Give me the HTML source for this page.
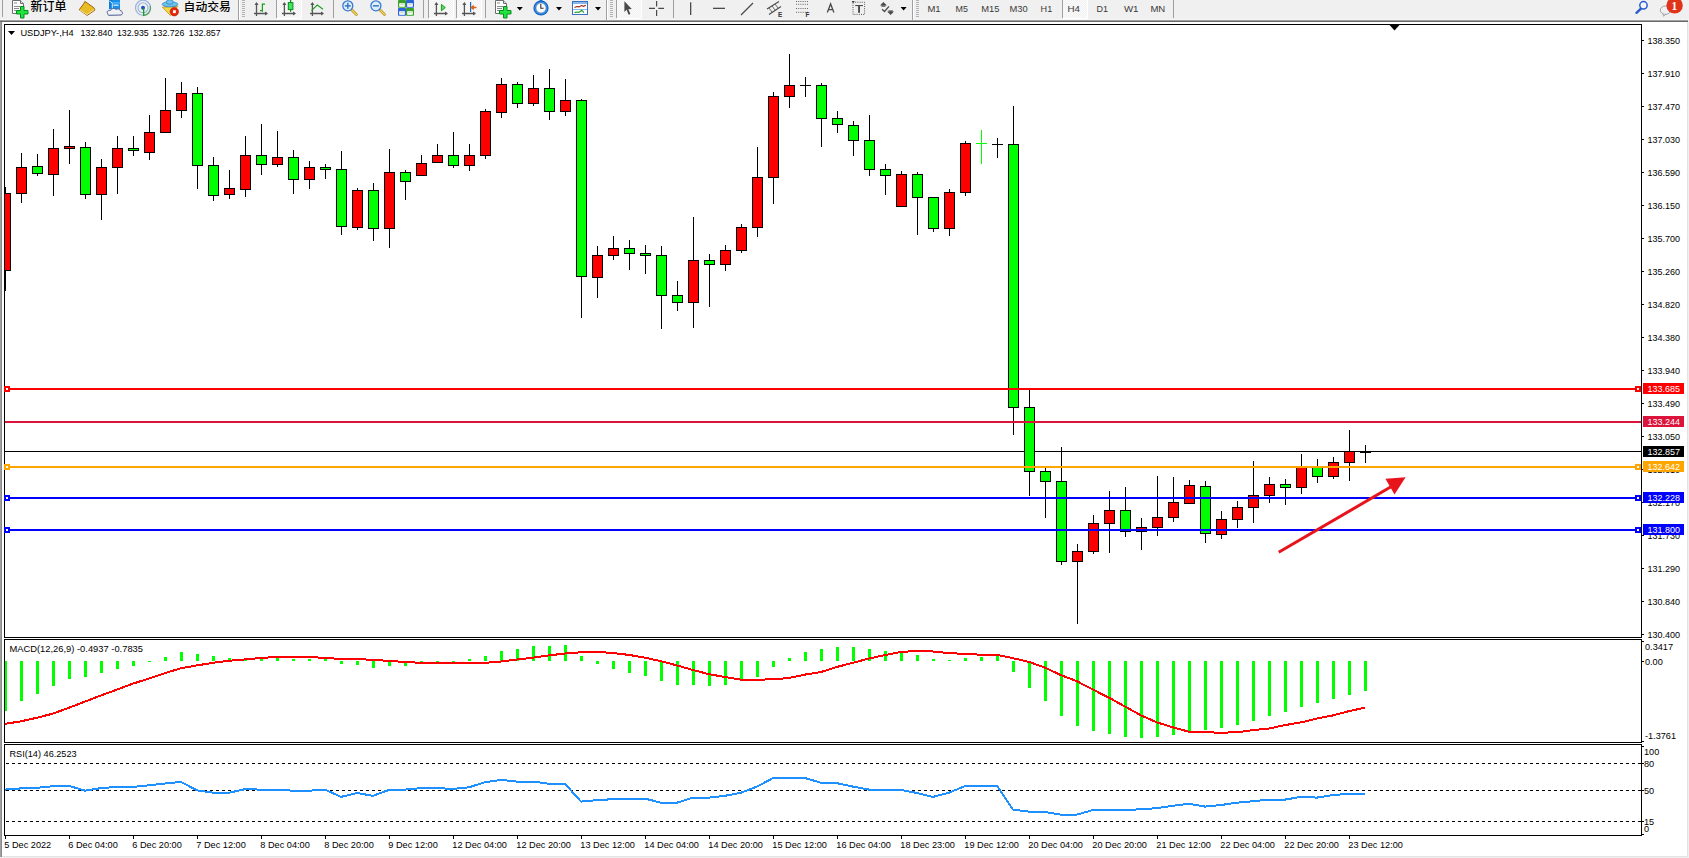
<!DOCTYPE html><html><head><meta charset="utf-8"><title>USDJPY-,H4</title><style>html,body{margin:0;padding:0;background:#fff;overflow:hidden;width:1689px;height:858px}svg{display:block}text{font-family:'Liberation Sans', sans-serif;}</style></head><body>
<svg width="1689" height="858" viewBox="0 0 1689 858">
<rect x="0" y="0" width="1689" height="858" fill="#ffffff"/>
<g shape-rendering="crispEdges">
<rect x="0" y="0" width="1689" height="20" fill="#f0f0f0"/>
<rect x="0" y="19" width="1689" height="1" fill="#f6f6f6"/>
<rect x="0" y="20" width="1688" height="1" fill="#a0a0a0"/>
<rect x="0" y="21" width="1688" height="1" fill="#696969"/>
<rect x="1688" y="20" width="1" height="838" fill="#f0f0f0"/>
<rect x="1687" y="22" width="1" height="835" fill="#e3e3e3"/>
<rect x="0" y="856" width="1688" height="1" fill="#e3e3e3"/>
<rect x="0" y="857" width="1689" height="1" fill="#f0f0f0"/>
<rect x="0" y="22" width="1" height="835" fill="#a0a0a0"/>
<rect x="1" y="22" width="1" height="835" fill="#8a8a8a"/>
</g>
<g shape-rendering="crispEdges" fill="#000">
<rect x="4" y="24" width="1638" height="1"/>
<rect x="4" y="637" width="1638" height="1"/>
<rect x="4" y="24" width="1" height="614"/>
<rect x="1641" y="24" width="1" height="614"/>
<rect x="4" y="639" width="1638" height="1"/>
<rect x="4" y="742" width="1638" height="1"/>
<rect x="4" y="639" width="1" height="104"/>
<rect x="1641" y="639" width="1" height="104"/>
<rect x="4" y="744" width="1638" height="1"/>
<rect x="4" y="835" width="1638" height="1"/>
<rect x="4" y="744" width="1" height="92"/>
<rect x="1641" y="744" width="1" height="92"/>
</g>
<g shape-rendering="crispEdges" fill="#000">
<rect x="1642" y="40" width="2" height="1"/>
<rect x="1642" y="73" width="2" height="1"/>
<rect x="1642" y="106" width="2" height="1"/>
<rect x="1642" y="139" width="2" height="1"/>
<rect x="1642" y="172" width="2" height="1"/>
<rect x="1642" y="205" width="2" height="1"/>
<rect x="1642" y="238" width="2" height="1"/>
<rect x="1642" y="271" width="2" height="1"/>
<rect x="1642" y="304" width="2" height="1"/>
<rect x="1642" y="337" width="2" height="1"/>
<rect x="1642" y="370" width="2" height="1"/>
<rect x="1642" y="403" width="2" height="1"/>
<rect x="1642" y="436" width="2" height="1"/>
<rect x="1642" y="469" width="2" height="1"/>
<rect x="1642" y="502" width="2" height="1"/>
<rect x="1642" y="535" width="2" height="1"/>
<rect x="1642" y="568" width="2" height="1"/>
<rect x="1642" y="601" width="2" height="1"/>
<rect x="1642" y="634" width="2" height="1"/>
</g>
<g font-size="9.8" fill="#000">
<text x="1647.5" y="44" textLength="32.5" lengthAdjust="spacingAndGlyphs">138.350</text>
<text x="1647.5" y="77" textLength="32.5" lengthAdjust="spacingAndGlyphs">137.910</text>
<text x="1647.5" y="110" textLength="32.5" lengthAdjust="spacingAndGlyphs">137.470</text>
<text x="1647.5" y="143" textLength="32.5" lengthAdjust="spacingAndGlyphs">137.030</text>
<text x="1647.5" y="176" textLength="32.5" lengthAdjust="spacingAndGlyphs">136.590</text>
<text x="1647.5" y="209" textLength="32.5" lengthAdjust="spacingAndGlyphs">136.150</text>
<text x="1647.5" y="242" textLength="32.5" lengthAdjust="spacingAndGlyphs">135.700</text>
<text x="1647.5" y="275" textLength="32.5" lengthAdjust="spacingAndGlyphs">135.260</text>
<text x="1647.5" y="308" textLength="32.5" lengthAdjust="spacingAndGlyphs">134.820</text>
<text x="1647.5" y="341" textLength="32.5" lengthAdjust="spacingAndGlyphs">134.380</text>
<text x="1647.5" y="374" textLength="32.5" lengthAdjust="spacingAndGlyphs">133.940</text>
<text x="1647.5" y="407" textLength="32.5" lengthAdjust="spacingAndGlyphs">133.490</text>
<text x="1647.5" y="440" textLength="32.5" lengthAdjust="spacingAndGlyphs">133.050</text>
<text x="1647.5" y="473" textLength="32.5" lengthAdjust="spacingAndGlyphs">132.610</text>
<text x="1647.5" y="506" textLength="32.5" lengthAdjust="spacingAndGlyphs">132.170</text>
<text x="1647.5" y="539" textLength="32.5" lengthAdjust="spacingAndGlyphs">131.730</text>
<text x="1647.5" y="572" textLength="32.5" lengthAdjust="spacingAndGlyphs">131.290</text>
<text x="1647.5" y="605" textLength="32.5" lengthAdjust="spacingAndGlyphs">130.840</text>
<text x="1647.5" y="638" textLength="32.5" lengthAdjust="spacingAndGlyphs">130.400</text>
</g>
<rect x="5" y="451" width="1636" height="1" fill="#000" shape-rendering="crispEdges"/>
<defs><clipPath id="cc"><rect x="5" y="25" width="1636" height="612"/></clipPath><clipPath id="mc"><rect x="5" y="640" width="1636" height="102"/></clipPath><clipPath id="rc"><rect x="5" y="745" width="1636" height="90"/></clipPath></defs>
<g shape-rendering="crispEdges" clip-path="url(#cc)">
<rect x="5" y="187" width="1" height="104" fill="#000"/>
<rect x="0" y="193" width="11" height="78" fill="#000"/>
<rect x="1" y="194" width="9" height="76" fill="#ff0000"/>
<rect x="21" y="153" width="1" height="50" fill="#000"/>
<rect x="16" y="167" width="11" height="27" fill="#000"/>
<rect x="17" y="168" width="9" height="25" fill="#ff0000"/>
<rect x="37" y="154" width="1" height="22" fill="#000"/>
<rect x="32" y="166" width="11" height="8" fill="#000"/>
<rect x="33" y="167" width="9" height="6" fill="#00ff00"/>
<rect x="53" y="129" width="1" height="67" fill="#000"/>
<rect x="48" y="148" width="11" height="27" fill="#000"/>
<rect x="49" y="149" width="9" height="25" fill="#ff0000"/>
<rect x="69" y="110" width="1" height="54" fill="#000"/>
<rect x="64" y="146" width="11" height="3" fill="#000"/>
<rect x="65" y="147" width="9" height="1" fill="#ff0000"/>
<rect x="85" y="142" width="1" height="57" fill="#000"/>
<rect x="80" y="147" width="11" height="48" fill="#000"/>
<rect x="81" y="148" width="9" height="46" fill="#00ff00"/>
<rect x="101" y="159" width="1" height="61" fill="#000"/>
<rect x="96" y="167" width="11" height="28" fill="#000"/>
<rect x="97" y="168" width="9" height="26" fill="#ff0000"/>
<rect x="117" y="136" width="1" height="58" fill="#000"/>
<rect x="112" y="148" width="11" height="20" fill="#000"/>
<rect x="113" y="149" width="9" height="18" fill="#ff0000"/>
<rect x="133" y="136" width="1" height="20" fill="#000"/>
<rect x="128" y="148" width="11" height="3" fill="#000"/>
<rect x="129" y="149" width="9" height="1" fill="#00ff00"/>
<rect x="149" y="115" width="1" height="45" fill="#000"/>
<rect x="144" y="132" width="11" height="21" fill="#000"/>
<rect x="145" y="133" width="9" height="19" fill="#ff0000"/>
<rect x="165" y="78" width="1" height="55" fill="#000"/>
<rect x="160" y="110" width="11" height="23" fill="#000"/>
<rect x="161" y="111" width="9" height="21" fill="#ff0000"/>
<rect x="181" y="82" width="1" height="36" fill="#000"/>
<rect x="176" y="93" width="11" height="18" fill="#000"/>
<rect x="177" y="94" width="9" height="16" fill="#ff0000"/>
<rect x="197" y="87" width="1" height="102" fill="#000"/>
<rect x="192" y="93" width="11" height="73" fill="#000"/>
<rect x="193" y="94" width="9" height="71" fill="#00ff00"/>
<rect x="213" y="157" width="1" height="44" fill="#000"/>
<rect x="208" y="165" width="11" height="31" fill="#000"/>
<rect x="209" y="166" width="9" height="29" fill="#00ff00"/>
<rect x="229" y="170" width="1" height="29" fill="#000"/>
<rect x="224" y="188" width="11" height="7" fill="#000"/>
<rect x="225" y="189" width="9" height="5" fill="#ff0000"/>
<rect x="245" y="136" width="1" height="61" fill="#000"/>
<rect x="240" y="155" width="11" height="35" fill="#000"/>
<rect x="241" y="156" width="9" height="33" fill="#ff0000"/>
<rect x="261" y="124" width="1" height="51" fill="#000"/>
<rect x="256" y="155" width="11" height="10" fill="#000"/>
<rect x="257" y="156" width="9" height="8" fill="#00ff00"/>
<rect x="277" y="131" width="1" height="36" fill="#000"/>
<rect x="272" y="157" width="11" height="8" fill="#000"/>
<rect x="273" y="158" width="9" height="6" fill="#ff0000"/>
<rect x="293" y="150" width="1" height="44" fill="#000"/>
<rect x="288" y="157" width="11" height="23" fill="#000"/>
<rect x="289" y="158" width="9" height="21" fill="#00ff00"/>
<rect x="309" y="161" width="1" height="28" fill="#000"/>
<rect x="304" y="167" width="11" height="13" fill="#000"/>
<rect x="305" y="168" width="9" height="11" fill="#ff0000"/>
<rect x="325" y="164" width="1" height="15" fill="#000"/>
<rect x="320" y="167" width="11" height="3" fill="#000"/>
<rect x="321" y="168" width="9" height="1" fill="#00ff00"/>
<rect x="341" y="151" width="1" height="84" fill="#000"/>
<rect x="336" y="169" width="11" height="58" fill="#000"/>
<rect x="337" y="170" width="9" height="56" fill="#00ff00"/>
<rect x="357" y="188" width="1" height="42" fill="#000"/>
<rect x="352" y="190" width="11" height="38" fill="#000"/>
<rect x="353" y="191" width="9" height="36" fill="#ff0000"/>
<rect x="373" y="183" width="1" height="58" fill="#000"/>
<rect x="368" y="190" width="11" height="39" fill="#000"/>
<rect x="369" y="191" width="9" height="37" fill="#00ff00"/>
<rect x="389" y="149" width="1" height="99" fill="#000"/>
<rect x="384" y="172" width="11" height="57" fill="#000"/>
<rect x="385" y="173" width="9" height="55" fill="#ff0000"/>
<rect x="405" y="170" width="1" height="30" fill="#000"/>
<rect x="400" y="172" width="11" height="10" fill="#000"/>
<rect x="401" y="173" width="9" height="8" fill="#00ff00"/>
<rect x="421" y="155" width="1" height="21" fill="#000"/>
<rect x="416" y="163" width="11" height="13" fill="#000"/>
<rect x="417" y="164" width="9" height="11" fill="#ff0000"/>
<rect x="437" y="144" width="1" height="19" fill="#000"/>
<rect x="432" y="155" width="11" height="8" fill="#000"/>
<rect x="433" y="156" width="9" height="6" fill="#ff0000"/>
<rect x="453" y="132" width="1" height="36" fill="#000"/>
<rect x="448" y="155" width="11" height="11" fill="#000"/>
<rect x="449" y="156" width="9" height="9" fill="#00ff00"/>
<rect x="469" y="144" width="1" height="27" fill="#000"/>
<rect x="464" y="155" width="11" height="11" fill="#000"/>
<rect x="465" y="156" width="9" height="9" fill="#ff0000"/>
<rect x="485" y="109" width="1" height="50" fill="#000"/>
<rect x="480" y="111" width="11" height="45" fill="#000"/>
<rect x="481" y="112" width="9" height="43" fill="#ff0000"/>
<rect x="501" y="78" width="1" height="40" fill="#000"/>
<rect x="496" y="84" width="11" height="29" fill="#000"/>
<rect x="497" y="85" width="9" height="27" fill="#ff0000"/>
<rect x="517" y="82" width="1" height="26" fill="#000"/>
<rect x="512" y="84" width="11" height="20" fill="#000"/>
<rect x="513" y="85" width="9" height="18" fill="#00ff00"/>
<rect x="533" y="75" width="1" height="31" fill="#000"/>
<rect x="528" y="88" width="11" height="16" fill="#000"/>
<rect x="529" y="89" width="9" height="14" fill="#ff0000"/>
<rect x="549" y="69" width="1" height="51" fill="#000"/>
<rect x="544" y="88" width="11" height="24" fill="#000"/>
<rect x="545" y="89" width="9" height="22" fill="#00ff00"/>
<rect x="565" y="79" width="1" height="37" fill="#000"/>
<rect x="560" y="100" width="11" height="12" fill="#000"/>
<rect x="561" y="101" width="9" height="10" fill="#ff0000"/>
<rect x="581" y="99" width="1" height="219" fill="#000"/>
<rect x="576" y="100" width="11" height="177" fill="#000"/>
<rect x="577" y="101" width="9" height="175" fill="#00ff00"/>
<rect x="597" y="246" width="1" height="52" fill="#000"/>
<rect x="592" y="255" width="11" height="23" fill="#000"/>
<rect x="593" y="256" width="9" height="21" fill="#ff0000"/>
<rect x="613" y="236" width="1" height="24" fill="#000"/>
<rect x="608" y="248" width="11" height="8" fill="#000"/>
<rect x="609" y="249" width="9" height="6" fill="#ff0000"/>
<rect x="629" y="240" width="1" height="30" fill="#000"/>
<rect x="624" y="248" width="11" height="6" fill="#000"/>
<rect x="625" y="249" width="9" height="4" fill="#00ff00"/>
<rect x="645" y="245" width="1" height="29" fill="#000"/>
<rect x="640" y="253" width="11" height="3" fill="#000"/>
<rect x="641" y="254" width="9" height="1" fill="#00ff00"/>
<rect x="661" y="246" width="1" height="83" fill="#000"/>
<rect x="656" y="255" width="11" height="41" fill="#000"/>
<rect x="657" y="256" width="9" height="39" fill="#00ff00"/>
<rect x="677" y="281" width="1" height="30" fill="#000"/>
<rect x="672" y="295" width="11" height="8" fill="#000"/>
<rect x="673" y="296" width="9" height="6" fill="#00ff00"/>
<rect x="693" y="217" width="1" height="111" fill="#000"/>
<rect x="688" y="260" width="11" height="43" fill="#000"/>
<rect x="689" y="261" width="9" height="41" fill="#ff0000"/>
<rect x="709" y="254" width="1" height="53" fill="#000"/>
<rect x="704" y="260" width="11" height="5" fill="#000"/>
<rect x="705" y="261" width="9" height="3" fill="#00ff00"/>
<rect x="725" y="245" width="1" height="26" fill="#000"/>
<rect x="720" y="250" width="11" height="15" fill="#000"/>
<rect x="721" y="251" width="9" height="13" fill="#ff0000"/>
<rect x="741" y="224" width="1" height="29" fill="#000"/>
<rect x="736" y="227" width="11" height="24" fill="#000"/>
<rect x="737" y="228" width="9" height="22" fill="#ff0000"/>
<rect x="757" y="147" width="1" height="90" fill="#000"/>
<rect x="752" y="177" width="11" height="51" fill="#000"/>
<rect x="753" y="178" width="9" height="49" fill="#ff0000"/>
<rect x="773" y="92" width="1" height="112" fill="#000"/>
<rect x="768" y="96" width="11" height="82" fill="#000"/>
<rect x="769" y="97" width="9" height="80" fill="#ff0000"/>
<rect x="789" y="54" width="1" height="54" fill="#000"/>
<rect x="784" y="85" width="11" height="12" fill="#000"/>
<rect x="785" y="86" width="9" height="10" fill="#ff0000"/>
<rect x="805" y="77" width="1" height="20" fill="#000"/>
<rect x="800" y="85" width="11" height="1" fill="#000"/>
<rect x="821" y="83" width="1" height="64" fill="#000"/>
<rect x="816" y="85" width="11" height="34" fill="#000"/>
<rect x="817" y="86" width="9" height="32" fill="#00ff00"/>
<rect x="837" y="111" width="1" height="22" fill="#000"/>
<rect x="832" y="118" width="11" height="7" fill="#000"/>
<rect x="833" y="119" width="9" height="5" fill="#00ff00"/>
<rect x="853" y="121" width="1" height="35" fill="#000"/>
<rect x="848" y="125" width="11" height="16" fill="#000"/>
<rect x="849" y="126" width="9" height="14" fill="#00ff00"/>
<rect x="869" y="115" width="1" height="61" fill="#000"/>
<rect x="864" y="140" width="11" height="30" fill="#000"/>
<rect x="865" y="141" width="9" height="28" fill="#00ff00"/>
<rect x="885" y="164" width="1" height="31" fill="#000"/>
<rect x="880" y="169" width="11" height="7" fill="#000"/>
<rect x="881" y="170" width="9" height="5" fill="#00ff00"/>
<rect x="901" y="171" width="1" height="36" fill="#000"/>
<rect x="896" y="174" width="11" height="33" fill="#000"/>
<rect x="897" y="175" width="9" height="31" fill="#ff0000"/>
<rect x="917" y="172" width="1" height="63" fill="#000"/>
<rect x="912" y="174" width="11" height="24" fill="#000"/>
<rect x="913" y="175" width="9" height="22" fill="#00ff00"/>
<rect x="933" y="197" width="1" height="35" fill="#000"/>
<rect x="928" y="197" width="11" height="32" fill="#000"/>
<rect x="929" y="198" width="9" height="30" fill="#00ff00"/>
<rect x="949" y="189" width="1" height="47" fill="#000"/>
<rect x="944" y="192" width="11" height="37" fill="#000"/>
<rect x="945" y="193" width="9" height="35" fill="#ff0000"/>
<rect x="965" y="141" width="1" height="55" fill="#000"/>
<rect x="960" y="143" width="11" height="50" fill="#000"/>
<rect x="961" y="144" width="9" height="48" fill="#ff0000"/>
<rect x="981" y="130" width="1" height="34" fill="#00ff00"/>
<rect x="976" y="143" width="11" height="1" fill="#00ff00"/>
<rect x="997" y="138" width="1" height="20" fill="#000"/>
<rect x="992" y="144" width="11" height="1" fill="#000"/>
<rect x="1013" y="106" width="1" height="329" fill="#000"/>
<rect x="1008" y="144" width="11" height="264" fill="#000"/>
<rect x="1009" y="145" width="9" height="262" fill="#00ff00"/>
<rect x="1029" y="390" width="1" height="106" fill="#000"/>
<rect x="1024" y="407" width="11" height="65" fill="#000"/>
<rect x="1025" y="408" width="9" height="63" fill="#00ff00"/>
<rect x="1045" y="468" width="1" height="50" fill="#000"/>
<rect x="1040" y="471" width="11" height="11" fill="#000"/>
<rect x="1041" y="472" width="9" height="9" fill="#00ff00"/>
<rect x="1061" y="447" width="1" height="118" fill="#000"/>
<rect x="1056" y="481" width="11" height="81" fill="#000"/>
<rect x="1057" y="482" width="9" height="79" fill="#00ff00"/>
<rect x="1077" y="544" width="1" height="80" fill="#000"/>
<rect x="1072" y="551" width="11" height="11" fill="#000"/>
<rect x="1073" y="552" width="9" height="9" fill="#ff0000"/>
<rect x="1093" y="515" width="1" height="39" fill="#000"/>
<rect x="1088" y="523" width="11" height="29" fill="#000"/>
<rect x="1089" y="524" width="9" height="27" fill="#ff0000"/>
<rect x="1109" y="491" width="1" height="62" fill="#000"/>
<rect x="1104" y="510" width="11" height="14" fill="#000"/>
<rect x="1105" y="511" width="9" height="12" fill="#ff0000"/>
<rect x="1125" y="487" width="1" height="50" fill="#000"/>
<rect x="1120" y="510" width="11" height="22" fill="#000"/>
<rect x="1121" y="511" width="9" height="20" fill="#00ff00"/>
<rect x="1141" y="518" width="1" height="32" fill="#000"/>
<rect x="1136" y="527" width="11" height="5" fill="#000"/>
<rect x="1137" y="528" width="9" height="3" fill="#ff0000"/>
<rect x="1157" y="476" width="1" height="60" fill="#000"/>
<rect x="1152" y="517" width="11" height="11" fill="#000"/>
<rect x="1153" y="518" width="9" height="9" fill="#ff0000"/>
<rect x="1173" y="477" width="1" height="45" fill="#000"/>
<rect x="1168" y="502" width="11" height="16" fill="#000"/>
<rect x="1169" y="503" width="9" height="14" fill="#ff0000"/>
<rect x="1189" y="480" width="1" height="24" fill="#000"/>
<rect x="1184" y="485" width="11" height="19" fill="#000"/>
<rect x="1185" y="486" width="9" height="17" fill="#ff0000"/>
<rect x="1205" y="481" width="1" height="62" fill="#000"/>
<rect x="1200" y="486" width="11" height="48" fill="#000"/>
<rect x="1201" y="487" width="9" height="46" fill="#00ff00"/>
<rect x="1221" y="511" width="1" height="28" fill="#000"/>
<rect x="1216" y="519" width="11" height="16" fill="#000"/>
<rect x="1217" y="520" width="9" height="14" fill="#ff0000"/>
<rect x="1237" y="501" width="1" height="27" fill="#000"/>
<rect x="1232" y="507" width="11" height="13" fill="#000"/>
<rect x="1233" y="508" width="9" height="11" fill="#ff0000"/>
<rect x="1253" y="461" width="1" height="62" fill="#000"/>
<rect x="1248" y="495" width="11" height="13" fill="#000"/>
<rect x="1249" y="496" width="9" height="11" fill="#ff0000"/>
<rect x="1269" y="477" width="1" height="26" fill="#000"/>
<rect x="1264" y="484" width="11" height="12" fill="#000"/>
<rect x="1265" y="485" width="9" height="10" fill="#ff0000"/>
<rect x="1285" y="479" width="1" height="26" fill="#000"/>
<rect x="1280" y="484" width="11" height="4" fill="#000"/>
<rect x="1281" y="485" width="9" height="2" fill="#00ff00"/>
<rect x="1301" y="454" width="1" height="40" fill="#000"/>
<rect x="1296" y="467" width="11" height="21" fill="#000"/>
<rect x="1297" y="468" width="9" height="19" fill="#ff0000"/>
<rect x="1317" y="459" width="1" height="24" fill="#000"/>
<rect x="1312" y="467" width="11" height="10" fill="#000"/>
<rect x="1313" y="468" width="9" height="8" fill="#00ff00"/>
<rect x="1333" y="457" width="1" height="22" fill="#000"/>
<rect x="1328" y="462" width="11" height="15" fill="#000"/>
<rect x="1329" y="463" width="9" height="13" fill="#ff0000"/>
<rect x="1349" y="430" width="1" height="51" fill="#000"/>
<rect x="1344" y="451" width="11" height="12" fill="#000"/>
<rect x="1345" y="452" width="9" height="10" fill="#ff0000"/>
<rect x="1365" y="445" width="1" height="18" fill="#000"/>
<rect x="1360" y="452" width="11" height="1" fill="#000"/>
</g>
<rect x="5" y="388" width="1636" height="2" fill="#ff0000" shape-rendering="crispEdges"/>
<rect x="4" y="386" width="6" height="6" fill="#ff0000" shape-rendering="crispEdges"/>
<rect x="6" y="388" width="2" height="2" fill="#fff" shape-rendering="crispEdges"/>
<rect x="1635" y="386" width="6" height="6" fill="#ff0000" shape-rendering="crispEdges"/>
<rect x="1637" y="388" width="2" height="2" fill="#fff" shape-rendering="crispEdges"/>
<rect x="5" y="421" width="1636" height="2" fill="#dc143c" shape-rendering="crispEdges"/>
<rect x="5" y="466" width="1636" height="2" fill="#ffa500" shape-rendering="crispEdges"/>
<rect x="4" y="464" width="6" height="6" fill="#ffa500" shape-rendering="crispEdges"/>
<rect x="6" y="466" width="2" height="2" fill="#fff" shape-rendering="crispEdges"/>
<rect x="1635" y="464" width="6" height="6" fill="#ffa500" shape-rendering="crispEdges"/>
<rect x="1637" y="466" width="2" height="2" fill="#fff" shape-rendering="crispEdges"/>
<rect x="5" y="497" width="1636" height="2" fill="#0000ff" shape-rendering="crispEdges"/>
<rect x="4" y="495" width="6" height="6" fill="#0000ff" shape-rendering="crispEdges"/>
<rect x="6" y="497" width="2" height="2" fill="#fff" shape-rendering="crispEdges"/>
<rect x="1635" y="495" width="6" height="6" fill="#0000ff" shape-rendering="crispEdges"/>
<rect x="1637" y="497" width="2" height="2" fill="#fff" shape-rendering="crispEdges"/>
<rect x="5" y="529" width="1636" height="2" fill="#0000ff" shape-rendering="crispEdges"/>
<rect x="4" y="527" width="6" height="6" fill="#0000ff" shape-rendering="crispEdges"/>
<rect x="6" y="529" width="2" height="2" fill="#fff" shape-rendering="crispEdges"/>
<rect x="1635" y="527" width="6" height="6" fill="#0000ff" shape-rendering="crispEdges"/>
<rect x="1637" y="529" width="2" height="2" fill="#fff" shape-rendering="crispEdges"/>
<line x1="1278.7" y1="552.3" x2="1391" y2="486.8" stroke="#e8141c" stroke-width="3"/>
<polygon points="1385.4,478.7 1405.6,477.2 1394.5,494.5" fill="#e8141c"/>
<polygon points="1389.5,25 1399.5,25 1394.5,30.5" fill="#000"/>
<rect x="1643" y="383" width="41" height="11" fill="#ff0000" shape-rendering="crispEdges"/>
<text x="1647.5" y="392" font-size="9.8" fill="#fff" textLength="32.5" lengthAdjust="spacingAndGlyphs">133.685</text>
<rect x="1643" y="416" width="41" height="11" fill="#dc143c" shape-rendering="crispEdges"/>
<text x="1647.5" y="425" font-size="9.8" fill="#fff" textLength="32.5" lengthAdjust="spacingAndGlyphs">133.244</text>
<rect x="1643" y="446" width="41" height="11" fill="#000000" shape-rendering="crispEdges"/>
<text x="1647.5" y="455" font-size="9.8" fill="#fff" textLength="32.5" lengthAdjust="spacingAndGlyphs">132.857</text>
<rect x="1643" y="461" width="41" height="11" fill="#ffa500" shape-rendering="crispEdges"/>
<text x="1647.5" y="470" font-size="9.8" fill="#fff" textLength="32.5" lengthAdjust="spacingAndGlyphs">132.642</text>
<rect x="1643" y="492" width="41" height="11" fill="#0000ff" shape-rendering="crispEdges"/>
<text x="1647.5" y="501" font-size="9.8" fill="#fff" textLength="32.5" lengthAdjust="spacingAndGlyphs">132.228</text>
<rect x="1643" y="524" width="41" height="11" fill="#0000ff" shape-rendering="crispEdges"/>
<text x="1647.5" y="533" font-size="9.8" fill="#fff" textLength="32.5" lengthAdjust="spacingAndGlyphs">131.800</text>
<polygon points="8,31 15,31 11.5,35" fill="#000"/>
<text x="20.4" y="36" font-size="9.8" fill="#000" textLength="53.2" lengthAdjust="spacingAndGlyphs">USDJPY-,H4</text>
<text x="80.6" y="36" font-size="9.8" fill="#000" textLength="31.8" lengthAdjust="spacingAndGlyphs">132.840</text>
<text x="116.9" y="36" font-size="9.8" fill="#000" textLength="31.8" lengthAdjust="spacingAndGlyphs">132.935</text>
<text x="152.6" y="36" font-size="9.8" fill="#000" textLength="31.8" lengthAdjust="spacingAndGlyphs">132.726</text>
<text x="188.8" y="36" font-size="9.8" fill="#000" textLength="31.8" lengthAdjust="spacingAndGlyphs">132.857</text>
<g clip-path="url(#mc)"><g shape-rendering="crispEdges" fill="#00ff00">
<rect x="4" y="661" width="3" height="50"/>
<rect x="20" y="661" width="3" height="40"/>
<rect x="36" y="661" width="3" height="33"/>
<rect x="52" y="661" width="3" height="25"/>
<rect x="68" y="661" width="3" height="18"/>
<rect x="84" y="661" width="3" height="16"/>
<rect x="100" y="661" width="3" height="12"/>
<rect x="116" y="661" width="3" height="8"/>
<rect x="132" y="661" width="3" height="5"/>
<rect x="148" y="661" width="3" height="1"/>
<rect x="164" y="657" width="3" height="4"/>
<rect x="180" y="652" width="3" height="9"/>
<rect x="196" y="654" width="3" height="7"/>
<rect x="212" y="656" width="3" height="5"/>
<rect x="228" y="658" width="3" height="3"/>
<rect x="244" y="658" width="3" height="3"/>
<rect x="260" y="659" width="3" height="2"/>
<rect x="276" y="658" width="3" height="3"/>
<rect x="292" y="659" width="3" height="2"/>
<rect x="308" y="659" width="3" height="2"/>
<rect x="324" y="659" width="3" height="2"/>
<rect x="340" y="661" width="3" height="3"/>
<rect x="356" y="661" width="3" height="4"/>
<rect x="372" y="661" width="3" height="7"/>
<rect x="388" y="661" width="3" height="5"/>
<rect x="404" y="661" width="3" height="5"/>
<rect x="420" y="661" width="3" height="1"/>
<rect x="436" y="661" width="3" height="1"/>
<rect x="452" y="661" width="3" height="1"/>
<rect x="468" y="659" width="3" height="2"/>
<rect x="484" y="656" width="3" height="5"/>
<rect x="500" y="651" width="3" height="10"/>
<rect x="516" y="649" width="3" height="12"/>
<rect x="532" y="646" width="3" height="15"/>
<rect x="548" y="646" width="3" height="15"/>
<rect x="564" y="645" width="3" height="16"/>
<rect x="580" y="656" width="3" height="5"/>
<rect x="596" y="661" width="3" height="3"/>
<rect x="612" y="661" width="3" height="8"/>
<rect x="628" y="661" width="3" height="12"/>
<rect x="644" y="661" width="3" height="15"/>
<rect x="660" y="661" width="3" height="20"/>
<rect x="676" y="661" width="3" height="24"/>
<rect x="692" y="661" width="3" height="24"/>
<rect x="708" y="661" width="3" height="25"/>
<rect x="724" y="661" width="3" height="24"/>
<rect x="740" y="661" width="3" height="20"/>
<rect x="756" y="661" width="3" height="16"/>
<rect x="772" y="661" width="3" height="6"/>
<rect x="788" y="658" width="3" height="3"/>
<rect x="804" y="652" width="3" height="9"/>
<rect x="820" y="649" width="3" height="12"/>
<rect x="836" y="647" width="3" height="14"/>
<rect x="852" y="647" width="3" height="14"/>
<rect x="868" y="649" width="3" height="12"/>
<rect x="884" y="651" width="3" height="10"/>
<rect x="900" y="653" width="3" height="8"/>
<rect x="916" y="655" width="3" height="6"/>
<rect x="932" y="659" width="3" height="2"/>
<rect x="948" y="660" width="3" height="1"/>
<rect x="964" y="658" width="3" height="3"/>
<rect x="980" y="657" width="3" height="4"/>
<rect x="996" y="656" width="3" height="5"/>
<rect x="1012" y="661" width="3" height="11"/>
<rect x="1028" y="661" width="3" height="27"/>
<rect x="1044" y="661" width="3" height="40"/>
<rect x="1060" y="661" width="3" height="55"/>
<rect x="1076" y="661" width="3" height="65"/>
<rect x="1092" y="661" width="3" height="70"/>
<rect x="1108" y="661" width="3" height="73"/>
<rect x="1124" y="661" width="3" height="76"/>
<rect x="1140" y="661" width="3" height="77"/>
<rect x="1156" y="661" width="3" height="76"/>
<rect x="1172" y="661" width="3" height="74"/>
<rect x="1188" y="661" width="3" height="70"/>
<rect x="1204" y="661" width="3" height="69"/>
<rect x="1220" y="661" width="3" height="67"/>
<rect x="1236" y="661" width="3" height="64"/>
<rect x="1252" y="661" width="3" height="60"/>
<rect x="1268" y="661" width="3" height="55"/>
<rect x="1284" y="661" width="3" height="51"/>
<rect x="1300" y="661" width="3" height="46"/>
<rect x="1316" y="661" width="3" height="42"/>
<rect x="1332" y="661" width="3" height="38"/>
<rect x="1348" y="661" width="3" height="34"/>
<rect x="1364" y="661" width="3" height="30"/>
</g>
<polyline points="5,723.9 21,721.3 37,717.7 53,713.6 69,707.7 85,701.6 101,695.4 117,689.6 133,683.6 149,678.5 165,673.1 181,668.2 197,665.4 213,662.8 229,660.8 245,659.4 261,658 277,656.9 293,656.9 309,656.9 325,658 341,658.9 357,658.9 373,660 389,660.8 405,662 421,662.8 437,662.8 453,662.8 469,662.8 485,662.8 501,661.5 517,659.5 533,657.7 549,655.4 565,653.5 581,652.3 597,651.7 613,653.1 629,654.9 645,657.7 661,661.2 677,665.4 693,670 709,674.2 725,677 741,679.6 757,679.7 773,679.3 789,678 805,674.6 821,672 837,666.9 853,662.8 869,658.5 885,655.1 901,652 917,650.8 933,651.5 949,653.1 965,653.9 981,654.7 997,654.9 1013,658.2 1029,661.9 1045,667.7 1061,675.1 1077,681.3 1093,689.6 1109,697.7 1125,706.5 1141,715.4 1157,722.4 1173,727.4 1189,731.7 1205,732.4 1221,732.6 1237,732.4 1253,730.1 1269,728.5 1285,725.1 1301,722.4 1317,718.5 1333,715.4 1349,711.1 1365,707.7" fill="none" stroke="#ff0000" stroke-width="2" stroke-linejoin="round" shape-rendering="crispEdges"/></g>
<text x="9.5" y="652" font-size="9.8" fill="#000" textLength="133.5" lengthAdjust="spacingAndGlyphs">MACD(12,26,9) -0.4937 -0.7835</text>
<g shape-rendering="crispEdges" fill="#000"><rect x="1642" y="641" width="2" height="1"/><rect x="1642" y="661" width="2" height="1"/><rect x="1642" y="741" width="2" height="1"/></g>
<text x="1645" y="650" font-size="9.8" fill="#000" textLength="28.0" lengthAdjust="spacingAndGlyphs">0.3417</text>
<text x="1645" y="665" font-size="9.8" fill="#000" textLength="17.8" lengthAdjust="spacingAndGlyphs">0.00</text>
<text x="1645" y="739" font-size="9.8" fill="#000" textLength="31.0" lengthAdjust="spacingAndGlyphs">-1.3761</text>
<line x1="6" y1="763.5" x2="1641" y2="763.5" stroke="#000" stroke-width="1" stroke-dasharray="3 3" shape-rendering="crispEdges"/>
<line x1="6" y1="790.5" x2="1641" y2="790.5" stroke="#000" stroke-width="1" stroke-dasharray="3 3" shape-rendering="crispEdges"/>
<line x1="6" y1="821.5" x2="1641" y2="821.5" stroke="#000" stroke-width="1" stroke-dasharray="3 3" shape-rendering="crispEdges"/>
<g clip-path="url(#rc)"><polyline points="5,789.6 21,788.4 37,787.8 53,786.2 69,785.8 85,790.7 101,788.1 117,786.9 133,786.9 149,785.3 165,783.5 181,781.9 197,790.4 213,792.7 229,792.7 245,789.2 261,789.6 277,789.6 293,790.7 309,790.7 325,789.6 341,796.9 357,793 373,795.8 389,789.9 405,789.6 421,788.1 437,788.1 453,788.9 469,787.3 485,782.2 501,779.9 517,781.6 533,781.6 549,783.8 565,783.8 581,801.6 597,800.1 613,799.2 629,798.6 645,798.6 661,802.7 677,802.7 693,797.6 709,797.6 725,795.8 741,792.7 757,786.6 773,778.1 789,778.1 805,778.1 821,782.7 837,783.2 853,786.6 869,789.6 885,789.9 901,789.9 917,793 933,796.9 949,792.7 965,786.1 981,785.8 997,785.8 1013,809.6 1029,811.6 1045,812 1061,814.6 1077,814.6 1093,810 1109,810 1125,810 1141,809.3 1157,808.1 1173,805.8 1189,803.8 1205,806.6 1221,805 1237,802.7 1253,801.2 1269,799.6 1285,799.6 1301,796.9 1317,797.6 1333,795 1349,793.9 1365,793.8" fill="none" stroke="#1e90ff" stroke-width="2" stroke-linejoin="round" shape-rendering="crispEdges"/></g>
<text x="9.5" y="757" font-size="9.8" fill="#000" textLength="67.1" lengthAdjust="spacingAndGlyphs">RSI(14) 46.2523</text>
<g shape-rendering="crispEdges" fill="#000"><rect x="1642" y="746" width="2" height="1"/><rect x="1642" y="763" width="2" height="1"/><rect x="1642" y="790" width="2" height="1"/><rect x="1642" y="821" width="2" height="1"/><rect x="1642" y="834" width="2" height="1"/></g>
<text x="1644" y="755" font-size="9.8" fill="#000" textLength="15.3" lengthAdjust="spacingAndGlyphs">100</text>
<text x="1644" y="767" font-size="9.8" fill="#000" textLength="10.2" lengthAdjust="spacingAndGlyphs">80</text>
<text x="1644" y="794" font-size="9.8" fill="#000" textLength="10.2" lengthAdjust="spacingAndGlyphs">50</text>
<text x="1644" y="825" font-size="9.8" fill="#000" textLength="10.2" lengthAdjust="spacingAndGlyphs">15</text>
<text x="1644" y="832" font-size="9.8" fill="#000" textLength="5.1" lengthAdjust="spacingAndGlyphs">0</text>
<g shape-rendering="crispEdges" fill="#000">
<rect x="5" y="836" width="1" height="3"/>
<rect x="69" y="836" width="1" height="3"/>
<rect x="133" y="836" width="1" height="3"/>
<rect x="197" y="836" width="1" height="3"/>
<rect x="261" y="836" width="1" height="3"/>
<rect x="325" y="836" width="1" height="3"/>
<rect x="389" y="836" width="1" height="3"/>
<rect x="453" y="836" width="1" height="3"/>
<rect x="517" y="836" width="1" height="3"/>
<rect x="581" y="836" width="1" height="3"/>
<rect x="645" y="836" width="1" height="3"/>
<rect x="709" y="836" width="1" height="3"/>
<rect x="773" y="836" width="1" height="3"/>
<rect x="837" y="836" width="1" height="3"/>
<rect x="901" y="836" width="1" height="3"/>
<rect x="965" y="836" width="1" height="3"/>
<rect x="1029" y="836" width="1" height="3"/>
<rect x="1093" y="836" width="1" height="3"/>
<rect x="1157" y="836" width="1" height="3"/>
<rect x="1221" y="836" width="1" height="3"/>
<rect x="1285" y="836" width="1" height="3"/>
<rect x="1349" y="836" width="1" height="3"/>
</g>
<g font-size="9.8" fill="#000">
<text x="4.3" y="848" font-size="9.8" fill="#000" textLength="46.9" lengthAdjust="spacingAndGlyphs">5 Dec 2022</text>
<text x="68.3" y="848" font-size="9.8" fill="#000" textLength="49.5" lengthAdjust="spacingAndGlyphs">6 Dec 04:00</text>
<text x="132.3" y="848" font-size="9.8" fill="#000" textLength="49.5" lengthAdjust="spacingAndGlyphs">6 Dec 20:00</text>
<text x="196.3" y="848" font-size="9.8" fill="#000" textLength="49.5" lengthAdjust="spacingAndGlyphs">7 Dec 12:00</text>
<text x="260.3" y="848" font-size="9.8" fill="#000" textLength="49.5" lengthAdjust="spacingAndGlyphs">8 Dec 04:00</text>
<text x="324.3" y="848" font-size="9.8" fill="#000" textLength="49.5" lengthAdjust="spacingAndGlyphs">8 Dec 20:00</text>
<text x="388.3" y="848" font-size="9.8" fill="#000" textLength="49.5" lengthAdjust="spacingAndGlyphs">9 Dec 12:00</text>
<text x="452.3" y="848" font-size="9.8" fill="#000" textLength="54.6" lengthAdjust="spacingAndGlyphs">12 Dec 04:00</text>
<text x="516.3" y="848" font-size="9.8" fill="#000" textLength="54.6" lengthAdjust="spacingAndGlyphs">12 Dec 20:00</text>
<text x="580.3" y="848" font-size="9.8" fill="#000" textLength="54.6" lengthAdjust="spacingAndGlyphs">13 Dec 12:00</text>
<text x="644.3" y="848" font-size="9.8" fill="#000" textLength="54.6" lengthAdjust="spacingAndGlyphs">14 Dec 04:00</text>
<text x="708.3" y="848" font-size="9.8" fill="#000" textLength="54.6" lengthAdjust="spacingAndGlyphs">14 Dec 20:00</text>
<text x="772.3" y="848" font-size="9.8" fill="#000" textLength="54.6" lengthAdjust="spacingAndGlyphs">15 Dec 12:00</text>
<text x="836.3" y="848" font-size="9.8" fill="#000" textLength="54.6" lengthAdjust="spacingAndGlyphs">16 Dec 04:00</text>
<text x="900.3" y="848" font-size="9.8" fill="#000" textLength="54.6" lengthAdjust="spacingAndGlyphs">18 Dec 23:00</text>
<text x="964.3" y="848" font-size="9.8" fill="#000" textLength="54.6" lengthAdjust="spacingAndGlyphs">19 Dec 12:00</text>
<text x="1028.3" y="848" font-size="9.8" fill="#000" textLength="54.6" lengthAdjust="spacingAndGlyphs">20 Dec 04:00</text>
<text x="1092.3" y="848" font-size="9.8" fill="#000" textLength="54.6" lengthAdjust="spacingAndGlyphs">20 Dec 20:00</text>
<text x="1156.3" y="848" font-size="9.8" fill="#000" textLength="54.6" lengthAdjust="spacingAndGlyphs">21 Dec 12:00</text>
<text x="1220.3" y="848" font-size="9.8" fill="#000" textLength="54.6" lengthAdjust="spacingAndGlyphs">22 Dec 04:00</text>
<text x="1284.3" y="848" font-size="9.8" fill="#000" textLength="54.6" lengthAdjust="spacingAndGlyphs">22 Dec 20:00</text>
<text x="1348.3" y="848" font-size="9.8" fill="#000" textLength="54.6" lengthAdjust="spacingAndGlyphs">23 Dec 12:00</text>
</g>
<defs><pattern id="chk" x="0" y="0" width="2" height="2" patternUnits="userSpaceOnUse"><rect width="2" height="2" fill="#f0f0f0"/><rect width="1" height="1" fill="#fdfdfd"/><rect x="1" y="1" width="1" height="1" fill="#fdfdfd"/></pattern></defs>
<g id="toolbar">
<rect x="2" y="0" width="1" height="17" fill="#a0a0a0" shape-rendering="crispEdges"/>
<path d="M12.5 0.5 H20.5 L23.5 3.5 V13.5 H12.5 Z" fill="#fff" stroke="#6e6e6e" stroke-width="1"/>
<path d="M20.5 0.5 V3.5 H23.5" fill="#ddd" stroke="#6e6e6e" stroke-width="1"/>
<rect x="14" y="2.5" width="3" height="1" fill="#8a8a8a"/>
<rect x="14" y="6.0" width="6" height="1" fill="#8a8a8a"/>
<rect x="14" y="8.0" width="5" height="1" fill="#8a8a8a"/>
<rect x="14" y="10.0" width="3" height="1" fill="#8a8a8a"/>
<path d="M20.5 6.5 h3.5 v4 h4 v3.5 h-4 v4 h-3.5 v-4 h-4 v-3.5 h4 Z" fill="#1ee43c" stroke="#0a8a1e" stroke-width="1"/>
<text x="30.5" y="11.2" font-size="12" font-weight="500" fill="#000" style="font-family:'Liberation Sans','Noto Sans CJK SC','WenQuanYi Zen Hei',sans-serif">新订单</text>
<path d="M84.9 1.4 L93.8 7.7 L95 10 L87.2 15.4 L79.2 9.8 L84 3.3 Z" fill="#e9bb25" stroke="#9a6412" stroke-width="1" stroke-linejoin="round"/>
<path d="M80 10 L87 14.5 L94.3 9.5" fill="none" stroke="#f6e3a0" stroke-width="1"/>
<rect x="109" y="0" width="11" height="9" fill="#1a8fe8" />
<rect x="109" y="0" width="3.2" height="9" fill="#0a7ee0" />
<path d="M109.5 1 L112.3 3 V9" stroke="#e8f6ff" stroke-width="0.9" fill="none"/>
<rect x="113.5" y="4.6" width="5" height="1.2" fill="#e8f6ff"/>
<rect x="112.3" y="2.4" width="7.7" height="1" fill="#6cc4ff"/>
<path d="M108 14 C106 12 108 9.5 110.5 10.5 C111 8.3 114.5 7.7 115.8 9.5 C117 8.3 120 8.7 120.5 10.8 C123 11 123 14.5 121 15 L109 15.3 C108 15.2 107.8 14.6 108 14 Z" fill="#eef0f6" stroke="#4a5d92" stroke-width="1"/>
<circle cx="143" cy="7.8" r="7.5" fill="none" stroke="#4a7ad0" stroke-width="1.1" opacity="0.55" stroke-dasharray="none"/>
<circle cx="143" cy="7.8" r="5" fill="none" stroke="#4a7ad0" stroke-width="1.1" opacity="0.55" stroke-dasharray="none"/>
<path d="M143.3 15.5 A7.5 7.5 0 0 0 150.3 6" fill="none" stroke="#3aa040" stroke-width="1.3" opacity="0.8"/>
<circle cx="143" cy="7.7" r="2" fill="#2050c8"/>
<rect x="143" y="8" width="1.3" height="7.8" fill="#1a9a1a"/>
<path d="M162.3 7.2 L177.8 6.2 L170.6 15.6 Z" fill="#f3d84a" stroke="#c09018" stroke-width="0.8"/>
<ellipse cx="170" cy="4.3" rx="7.8" ry="2.6" fill="#6cc0ea" stroke="#2f88c0" stroke-width="0.8"/>
<ellipse cx="169.8" cy="2" rx="3.5" ry="2.3" fill="#74c4ee" stroke="#2f88c0" stroke-width="0.8"/>
<circle cx="174.3" cy="11.7" r="4.2" fill="#e8260a" stroke="#b01000" stroke-width="0.6"/>
<rect x="173" y="10.2" width="2.8" height="2.9" fill="#fff"/>
<text x="183.6" y="11.2" font-size="11.8" font-weight="500" fill="#000" style="font-family:'Liberation Sans','Noto Sans CJK SC','WenQuanYi Zen Hei',sans-serif">自动交易</text>
<rect x="238" y="0" width="1" height="20" fill="#a0a0a0"/><rect x="239" y="0" width="1" height="20" fill="#fff"/>
<rect x="242" y="0" width="3" height="1" fill="#b4b4b4" shape-rendering="crispEdges"/>
<rect x="242" y="2" width="3" height="1" fill="#b4b4b4" shape-rendering="crispEdges"/>
<rect x="242" y="4" width="3" height="1" fill="#b4b4b4" shape-rendering="crispEdges"/>
<rect x="242" y="6" width="3" height="1" fill="#b4b4b4" shape-rendering="crispEdges"/>
<rect x="242" y="8" width="3" height="1" fill="#b4b4b4" shape-rendering="crispEdges"/>
<rect x="242" y="10" width="3" height="1" fill="#b4b4b4" shape-rendering="crispEdges"/>
<rect x="242" y="12" width="3" height="1" fill="#b4b4b4" shape-rendering="crispEdges"/>
<rect x="242" y="14" width="3" height="1" fill="#b4b4b4" shape-rendering="crispEdges"/>
<rect x="242" y="16" width="3" height="1" fill="#b4b4b4" shape-rendering="crispEdges"/>
<path d="M256.5 3 V16.0 M254 13.5 H267" stroke="#555" stroke-width="1.3" fill="none"/>
<path d="M254.5 5 L256.5 2 L258.5 5Z M265 11.5 L268 13.5 L265 15.5Z" fill="#555"/>
<path d="M262.4 3.5 V11.8 M260 10.6 H262.4 M262.4 4.2 H265" stroke="#1aa01a" stroke-width="1.2" fill="none"/>
<rect x="276" y="0" width="1" height="18" fill="#a0a0a0" shape-rendering="crispEdges"/>
<rect x="277" y="0" width="24" height="18" fill="url(#chk)" shape-rendering="crispEdges"/>
<rect x="301" y="0" width="1" height="19" fill="#fff" shape-rendering="crispEdges"/>
<rect x="277" y="18" width="24" height="1" fill="#fff" shape-rendering="crispEdges"/>
<path d="M284.4 3 V16.0 M282 13.5 H295" stroke="#555" stroke-width="1.3" fill="none"/>
<path d="M282.4 5 L284.4 2 L286.4 5Z M293 11.5 L296 13.5 L293 15.5Z" fill="#555"/>
<rect x="290" y="0" width="1.2" height="11.8" fill="#0a8a1a"/>
<rect x="288.3" y="2.6" width="4.6" height="7" fill="#3ee860" stroke="#0a8a1a" stroke-width="1"/>
<path d="M312.4 3 V16.0 M310 13.5 H323" stroke="#555" stroke-width="1.3" fill="none"/>
<path d="M310.4 5 L312.4 2 L314.4 5Z M321 11.5 L324 13.5 L321 15.5Z" fill="#555"/>
<path d="M311.4 10.6 L317.3 5.1 L323 9.2" stroke="#22a022" stroke-width="1.2" fill="none"/>
<rect x="333" y="0" width="1" height="18" fill="#a0a0a0" shape-rendering="crispEdges"/>
<path d="M351.40000000000003 9.5 L356.40000000000003 14.5" stroke="#b08a10" stroke-width="2.6" stroke-linecap="round"/>
<path d="M351.40000000000003 9.5 L356.40000000000003 14.5" stroke="#f4d860" stroke-width="1.2" stroke-linecap="round"/>
<circle cx="347.8" cy="5.8" r="5" fill="#dceefc" stroke="#3a78d0" stroke-width="1.3"/>
<rect x="344.8" y="5.1" width="6" height="1.5" fill="#3a78c0"/>
<rect x="347.05" y="2.8" width="1.5" height="6" fill="#3a78c0"/>
<path d="M379.5 9.5 L384.5 14.5" stroke="#b08a10" stroke-width="2.6" stroke-linecap="round"/>
<path d="M379.5 9.5 L384.5 14.5" stroke="#f4d860" stroke-width="1.2" stroke-linecap="round"/>
<circle cx="375.9" cy="5.8" r="5" fill="#dceefc" stroke="#3a78d0" stroke-width="1.3"/>
<rect x="372.9" y="5.1" width="6" height="1.5" fill="#3a78c0"/>
<rect x="398" y="0" width="8" height="7.8" fill="#3aa02a" rx="0.8"/>
<rect x="399.2" y="3.2" width="5.6" height="3.6" fill="#fff"/>
<rect x="400.2" y="4.2" width="3.6" height="1" fill="#b8d8b0"/>
<rect x="406" y="0" width="8" height="7.8" fill="#2a64d8" rx="0.8"/>
<rect x="407.2" y="3.2" width="5.6" height="3.6" fill="#fff"/>
<rect x="408.2" y="4.2" width="3.6" height="1" fill="#b8d8b0"/>
<rect x="398" y="8" width="8" height="7.8" fill="#2a64d8" rx="0.8"/>
<rect x="399.2" y="11.2" width="5.6" height="3.6" fill="#fff"/>
<rect x="400.2" y="12.2" width="3.6" height="1" fill="#b8d8b0"/>
<rect x="406" y="8" width="8" height="7.8" fill="#3aa02a" rx="0.8"/>
<rect x="407.2" y="11.2" width="5.6" height="3.6" fill="#fff"/>
<rect x="408.2" y="12.2" width="3.6" height="1" fill="#b8d8b0"/>
<rect x="423" y="0" width="1" height="18" fill="#a0a0a0" shape-rendering="crispEdges"/>
<rect x="428" y="0" width="1" height="18" fill="#a0a0a0" shape-rendering="crispEdges"/>
<rect x="429" y="0" width="24" height="18" fill="url(#chk)" shape-rendering="crispEdges"/>
<rect x="453" y="0" width="1" height="19" fill="#fff" shape-rendering="crispEdges"/>
<rect x="429" y="18" width="24" height="1" fill="#fff" shape-rendering="crispEdges"/>
<path d="M436.4 3 V16.0 M434 13.5 H447" stroke="#555" stroke-width="1.3" fill="none"/>
<path d="M434.4 5 L436.4 2 L438.4 5Z M445 11.5 L448 13.5 L445 15.5Z" fill="#555"/>
<path d="M441.4 4.4 L445.3 7.6 L441.4 10.8 Z" fill="#58e060" stroke="#1a9a1a" stroke-width="1"/>
<rect x="456" y="0" width="1" height="18" fill="#a0a0a0" shape-rendering="crispEdges"/>
<rect x="457" y="0" width="24" height="18" fill="url(#chk)" shape-rendering="crispEdges"/>
<rect x="481" y="0" width="1" height="19" fill="#fff" shape-rendering="crispEdges"/>
<rect x="457" y="18" width="24" height="1" fill="#fff" shape-rendering="crispEdges"/>
<path d="M464.4 3 V16.0 M462 13.5 H475" stroke="#555" stroke-width="1.3" fill="none"/>
<path d="M462.4 5 L464.4 2 L466.4 5Z M473 11.5 L476 13.5 L473 15.5Z" fill="#555"/>
<rect x="470" y="2" width="1.2" height="10" fill="#1a6ac8"/>
<path d="M476.5 7.5 H472 M473.8 5.6 L471.4 7.5 L473.8 9.4" stroke="#e06010" stroke-width="1.4" fill="none"/>
<rect x="485" y="0" width="1" height="18" fill="#a0a0a0" shape-rendering="crispEdges"/>
<path d="M495.5 0.5 H503.5 L506.5 3.5 V13.5 H495.5 Z" fill="#fff" stroke="#6e6e6e" stroke-width="1"/>
<path d="M503.5 0.5 V3.5 H506.5" fill="#ddd" stroke="#6e6e6e" stroke-width="1"/>
<rect x="497" y="2.5" width="3" height="1" fill="#8a8a8a"/>
<rect x="497" y="6.0" width="6" height="1" fill="#8a8a8a"/>
<rect x="497" y="8.0" width="5" height="1" fill="#8a8a8a"/>
<rect x="497" y="10.0" width="3" height="1" fill="#8a8a8a"/>
<path d="M503.5 6.5 h3.5 v4 h4 v3.5 h-4 v4 h-3.5 v-4 h-4 v-3.5 h4 Z" fill="#1ee43c" stroke="#0a8a1e" stroke-width="1"/>
<path d="M516.8 7 h6 l-3 3.5 Z" fill="#000"/>
<circle cx="541" cy="8" r="7.6" fill="#0a5cc0"/>
<circle cx="541" cy="8" r="6.6" fill="#3a8ae0"/>
<circle cx="541" cy="8" r="5" fill="#f8fafc" stroke="#5a7aa0" stroke-width="0.5"/>
<path d="M540.8 4 V8.3 H543.6" stroke="#333" stroke-width="1.1" fill="none"/>
<rect x="539.5" y="0" width="3" height="1.2" fill="#1470d0"/>
<path d="M556 7 h6 l-3 3.5 Z" fill="#000"/>
<rect x="572.5" y="1.5" width="15" height="13" fill="#fff" stroke="#3a70c0" stroke-width="1"/>
<rect x="573" y="2" width="14" height="2" fill="#8ab8ec"/>
<rect x="573" y="9" width="14" height="1" fill="#8ab8ec"/>
<path d="M574.5 7.4 L577 6.5 L579 6.9 L581.5 5.6 L583.5 6.3 L585.8 5.3" stroke="#a02010" stroke-width="1.1" fill="none"/>
<path d="M574.5 12.6 L577 12 L579 12.4 L581.7 10.3 L584 12.6" stroke="#20a020" stroke-width="1.1" fill="none"/>
<path d="M595 7 h6 l-3 3.5 Z" fill="#000"/>
<rect x="606" y="0" width="1" height="20" fill="#a0a0a0"/><rect x="607" y="0" width="1" height="20" fill="#fff"/>
<rect x="610" y="0" width="3" height="1" fill="#b4b4b4" shape-rendering="crispEdges"/>
<rect x="610" y="2" width="3" height="1" fill="#b4b4b4" shape-rendering="crispEdges"/>
<rect x="610" y="4" width="3" height="1" fill="#b4b4b4" shape-rendering="crispEdges"/>
<rect x="610" y="6" width="3" height="1" fill="#b4b4b4" shape-rendering="crispEdges"/>
<rect x="610" y="8" width="3" height="1" fill="#b4b4b4" shape-rendering="crispEdges"/>
<rect x="610" y="10" width="3" height="1" fill="#b4b4b4" shape-rendering="crispEdges"/>
<rect x="610" y="12" width="3" height="1" fill="#b4b4b4" shape-rendering="crispEdges"/>
<rect x="610" y="14" width="3" height="1" fill="#b4b4b4" shape-rendering="crispEdges"/>
<rect x="610" y="16" width="3" height="1" fill="#b4b4b4" shape-rendering="crispEdges"/>
<rect x="616" y="0" width="1" height="18" fill="#a0a0a0" shape-rendering="crispEdges"/>
<rect x="617" y="0" width="24" height="18" fill="url(#chk)" shape-rendering="crispEdges"/>
<rect x="641" y="0" width="1" height="19" fill="#fff" shape-rendering="crispEdges"/>
<rect x="617" y="18" width="24" height="1" fill="#fff" shape-rendering="crispEdges"/>
<path d="M624.4 1.2 L624.4 12 L626.6 9.8 L628.6 14.8 L630.4 14 L628.4 9.2 L631.8 9 Z" fill="#4a4a4a"/>
<path d="M656.6 1 V6.5 M656.6 10 V16 M649 8.3 H655 M658.3 8.3 H664" stroke="#4a4a4a" stroke-width="1.2"/>
<rect x="673" y="0" width="1" height="18" fill="#a0a0a0" shape-rendering="crispEdges"/>
<rect x="690" y="2.3" width="1.3" height="12.7" fill="#4a4a4a"/>
<rect x="713" y="7.7" width="12" height="1.3" fill="#4a4a4a"/>
<path d="M741 15 L753 3" stroke="#4a4a4a" stroke-width="1.2"/>
<path d="M767 9 L779 1.5 M769 14.5 L781 6.5" stroke="#4a4a4a" stroke-width="1.1"/>
<path d="M769 8 L772 12 M772 6 L775 10 M775 4 L778 8" stroke="#4a4a4a" stroke-width="0.8"/>
<text x="778" y="17" font-size="6.5" font-weight="bold" fill="#333">E</text>
<line x1="796" y1="1.5" x2="809" y2="1.5" stroke="#555" stroke-width="0.9" stroke-dasharray="1 1.2"/>
<line x1="796" y1="4.3" x2="809" y2="4.3" stroke="#555" stroke-width="0.9" stroke-dasharray="1 1.2"/>
<line x1="796" y1="8.5" x2="809" y2="8.5" stroke="#555" stroke-width="0.9" stroke-dasharray="1 1.2"/>
<line x1="796" y1="12.3" x2="809" y2="12.3" stroke="#555" stroke-width="0.9" stroke-dasharray="1 1.2"/>
<text x="805.5" y="17" font-size="6.5" font-weight="bold" fill="#333">F</text>
<path d="M827.3 12.6 L830.6 3.9 L833.9 12.6 M828.6 9.6 H832.6" stroke="#4a4a4a" stroke-width="1.3" fill="none"/>
<rect x="853" y="2.2" width="11.6" height="12.2" fill="none" stroke="#444" stroke-width="0.9" stroke-dasharray="1 1.2"/>
<rect x="852" y="1" width="2.4" height="1.4" fill="#444"/>
<rect x="855.2" y="5" width="7.7" height="1.1" fill="#4a4a4a"/>
<rect x="858.1" y="5" width="1.9" height="7.8" fill="#4a4a4a"/>
<path d="M880 5.6 L883.4 1.9 L886.9 5.6 Z" fill="#4a4a4a"/>
<rect x="881.4" y="5.4" width="4" height="1.3" fill="#4a4a4a"/>
<path d="M887.1 11.5 L894 11.5 L890.6 15 Z" fill="#4a4a4a"/>
<rect x="888.4" y="10.4" width="4.4" height="1.3" fill="#4a4a4a"/>
<path d="M882.1 9.3 L884.5 11.5 L889 6.4" stroke="#4a4a4a" stroke-width="1.3" fill="none"/>
<path d="M900.6 7 h6 l-3 3.5 Z" fill="#000"/>
<rect x="912" y="0" width="1" height="20" fill="#a0a0a0"/><rect x="913" y="0" width="1" height="20" fill="#fff"/>
<rect x="916" y="0" width="3" height="1" fill="#b4b4b4" shape-rendering="crispEdges"/>
<rect x="916" y="2" width="3" height="1" fill="#b4b4b4" shape-rendering="crispEdges"/>
<rect x="916" y="4" width="3" height="1" fill="#b4b4b4" shape-rendering="crispEdges"/>
<rect x="916" y="6" width="3" height="1" fill="#b4b4b4" shape-rendering="crispEdges"/>
<rect x="916" y="8" width="3" height="1" fill="#b4b4b4" shape-rendering="crispEdges"/>
<rect x="916" y="10" width="3" height="1" fill="#b4b4b4" shape-rendering="crispEdges"/>
<rect x="916" y="12" width="3" height="1" fill="#b4b4b4" shape-rendering="crispEdges"/>
<rect x="916" y="14" width="3" height="1" fill="#b4b4b4" shape-rendering="crispEdges"/>
<rect x="916" y="16" width="3" height="1" fill="#b4b4b4" shape-rendering="crispEdges"/>
<rect x="1062" y="0" width="1" height="18" fill="#a0a0a0"/>
<rect x="1063" y="0" width="24" height="18" fill="url(#chk)" shape-rendering="crispEdges"/>
<rect x="1087" y="0" width="1" height="19" fill="#fff" shape-rendering="crispEdges"/>
<rect x="1063" y="18" width="24" height="1" fill="#fff" shape-rendering="crispEdges"/>
<text x="927.4" y="12.2" font-size="9.4" fill="#3a3a3a" textLength="13.2" lengthAdjust="spacingAndGlyphs">M1</text>
<text x="955.6" y="12.2" font-size="9.4" fill="#3a3a3a" textLength="12.4" lengthAdjust="spacingAndGlyphs">M5</text>
<text x="981.3" y="12.2" font-size="9.4" fill="#3a3a3a" textLength="18.2" lengthAdjust="spacingAndGlyphs">M15</text>
<text x="1009.5" y="12.2" font-size="9.4" fill="#3a3a3a" textLength="18.2" lengthAdjust="spacingAndGlyphs">M30</text>
<text x="1040.6" y="12.2" font-size="9.4" fill="#3a3a3a" textLength="11.6" lengthAdjust="spacingAndGlyphs">H1</text>
<text x="1067.5" y="12.2" font-size="9.4" fill="#3a3a3a" textLength="12.5" lengthAdjust="spacingAndGlyphs">H4</text>
<text x="1096.5" y="12.2" font-size="9.4" fill="#3a3a3a" textLength="11.5" lengthAdjust="spacingAndGlyphs">D1</text>
<text x="1123.9" y="12.2" font-size="9.4" fill="#3a3a3a" textLength="14.6" lengthAdjust="spacingAndGlyphs">W1</text>
<text x="1150.4" y="12.2" font-size="9.4" fill="#3a3a3a" textLength="14.9" lengthAdjust="spacingAndGlyphs">MN</text>
<rect x="1173" y="0" width="1" height="18" fill="#a0a0a0" shape-rendering="crispEdges"/>
<path d="M1641.2 8.3 L1636.5 12.8" stroke="#2a5cd0" stroke-width="2.4" stroke-linecap="round"/>
<circle cx="1643.5" cy="5.3" r="3.7" fill="#f4f6fc" stroke="#2a5cd0" stroke-width="1.5"/>
<ellipse cx="1665.5" cy="10.2" rx="5.2" ry="4.2" fill="#eef0f4" stroke="#9a9a9a" stroke-width="0.9"/>
<path d="M1663 13.8 L1663.6 16.3 L1666 14" fill="#ccc" stroke="#888" stroke-width="0.6"/>
<circle cx="1674.6" cy="5.4" r="8.2" fill="#e0341a"/>
<text x="1671.4" y="9.6" font-size="11.5" font-weight="bold" fill="#fff" style="font-family:'Liberation Serif',serif">1</text>
</g>
</svg></body></html>
